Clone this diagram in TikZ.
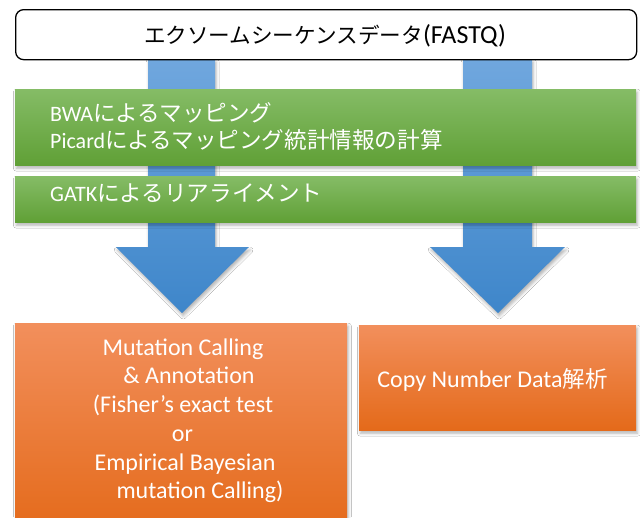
\documentclass[tikz,border=0pt]{standalone}
\usepackage{fontspec}
\setmainfont{Carlito}
\newfontfamily\jp{Noto Sans CJK JP}
\usetikzlibrary{shadows.blur}
\definecolor{blueTop}{RGB}{112,167,222}
\definecolor{blueBot}{RGB}{62,134,202}
\definecolor{greenTop}{RGB}{133,188,102}
\definecolor{greenBot}{RGB}{96,160,54}
\definecolor{orTop}{RGB}{242,143,92}
\definecolor{orBot}{RGB}{228,106,26}
\newcommand\J[2]{{\fontsize{#1}{#1}\jp #2}}
\tikzset{
  softshadow/.style={blur shadow={shadow xshift=1.2pt,shadow yshift=-3pt,shadow blur radius=3pt,shadow opacity=30}},
  bluearrow/.style={top color=blueTop,bottom color=blueBot,draw=none,softshadow},
  topbox/.style={draw=black,line width=1.3pt,rounded corners=8pt,fill=white,inner sep=0pt,anchor=north west},
  greenbox/.style={top color=greenTop,bottom color=greenBot,draw=none,inner sep=0pt,anchor=north west,softshadow},
  orangebox/.style={top color=orTop,bottom color=orBot,draw=none,inner sep=0pt,anchor=north west,softshadow},
  wtext/.style={text=white,inner sep=0pt},
  gtext/.style={wtext,anchor=base west,font=\fontsize{22}{26}\selectfont},
  otext/.style={wtext,anchor=base,font=\fontsize{24}{29}\selectfont},
}
\begin{document}
\begin{tikzpicture}[x=1pt,y=-1pt]
\useasboundingbox[fill=white] (0,0) rectangle (640,517);
% block arrows
\path[bluearrow] (148,59) -- (215,59) -- (215,247) -- (249,247) -- (182,313) -- (116,247) -- (148,247) -- cycle;
\path[bluearrow] (463,59) -- (532,59) -- (532,247) -- (565,247) -- (498,313) -- (430,247) -- (463,247) -- cycle;
% boxes
\node[topbox,minimum width=621pt,minimum height=50pt] (fastq) at (15,9) {};
\node[greenbox,minimum width=621pt,minimum height=76pt] (map) at (15,89) {};
\node[greenbox,minimum width=621pt,minimum height=46pt] (gatk) at (15,176) {};
\node[orangebox,minimum width=332pt,minimum height=210pt] (mut) at (15,323) {};
\node[orangebox,minimum width=277pt,minimum height=105pt] (cnv) at (359,325) {};
% texts
\node[anchor=base,inner sep=0pt,font=\fontsize{26}{30}\selectfont] (tfastq) at (325,43) {\J{21.6}{エクソームシーケンスデータ}(FASTQ)};
\node[gtext] (tbwa) at (50,121) {BWA\J{22.6}{によるマッピング}};
\node[gtext] (tpic) at (50,148) {Picard\J{22.6}{によるマッピング統計情報の計算}};
\node[gtext] (tgatk) at (50,201) {GATK\J{22.6}{によるリアライメント}};
\node[otext] (m1) at (183,355) {Mutation Calling};
\node[otext] (m2) at (189,383) {\& Annotation};
\node[otext] (m3) at (183,412) {(Fisher’s exact test};
\node[otext] (m4) at (182.5,441) {or};
\node[otext] (m5) at (185,470) {Empirical Bayesian};
\node[otext] (m6) at (200,498) {mutation Calling)};
\node[otext] (tcnv) at (492.5,387) {Copy Number Data\J{22.5}{解析}};
\end{tikzpicture}
\end{document}
